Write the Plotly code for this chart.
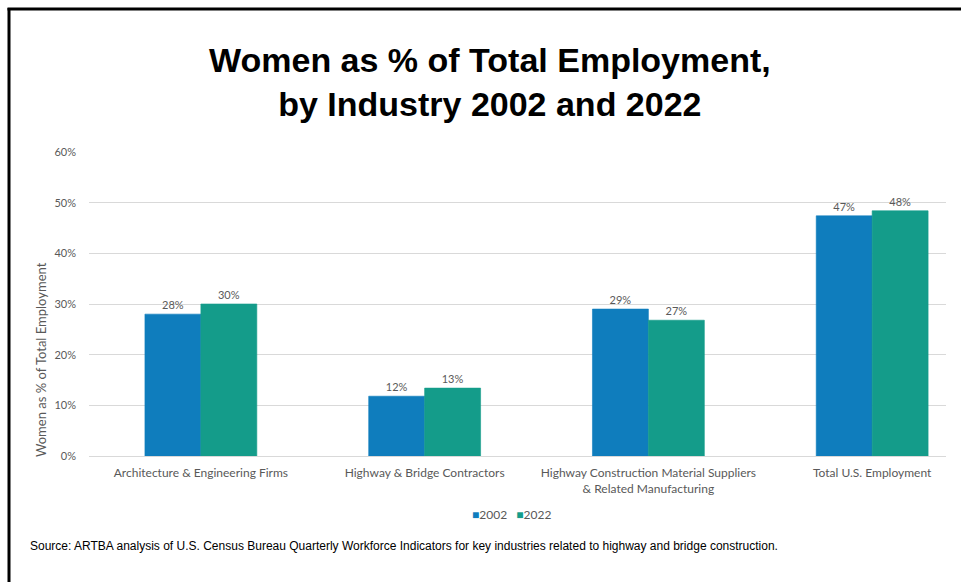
import plotly.graph_objects as go

categories = [
    "Architecture & Engineering Firms",
    "Highway & Bridge Contractors",
    "Highway Construction Material Suppliers<br>& Related Manufacturing",
    "Total U.S. Employment",
]
series_names = ["2002", "2022"]
values_2002 = [28.0, 11.8, 29.0, 47.4]
values_2022 = [30.0, 13.4, 26.8, 48.4]
y_ticks = [0, 10, 20, 30, 40, 50, 60]

W, H = 961, 582
L, R, T, B = 89, 15, 152, 126
PW, PH = W - L - R, H - T - B

def px_x(x):
    return (x - L) / PW

def px_y(y):
    return (H - B - y) / PH

blue = "#0F7DBD"
teal = "#149C8A"
grey = "#595959"
lab_font = "Lato, Open Sans, sans-serif"
colors = [blue, teal]

fig = go.Figure()
for name, vals, col in [(series_names[0], values_2002, blue), (series_names[1], values_2022, teal)]:
    fig.add_trace(go.Bar(
        x=categories, y=vals, name=name, marker=dict(color=col, line=dict(width=0.6, color=col)),
        texttemplate="%{y:.0f}%", textposition="outside",
        textfont=dict(family=lab_font, size=11, color=grey), cliponaxis=False,
        showlegend=False,
    ))

fig.update_layout(
    width=W, height=H, margin=dict(l=L, r=R, t=T, b=B),
    paper_bgcolor="white", plot_bgcolor="white",
    barmode="group", bargap=0.5, bargroupgap=0,
    xaxis=dict(range=[-0.5, 3.33], showgrid=False, showline=False, ticks="",
               ticklabelstandoff=8,
               tickfont=dict(family=lab_font, size=12, color=grey)),
    yaxis=dict(range=[0, 60], tickvals=y_ticks, ticktext=[f"{v}%" for v in y_ticks],
               showgrid=True, gridcolor="#D9D9D9", gridwidth=1, zeroline=True,
               zerolinecolor="#D9D9D9", zerolinewidth=1, showline=False, ticks="",
               ticklabelstandoff=12,
               tickfont=dict(family=lab_font, size=11, color=grey)),
)

# legend (compact, Excel-style)
legend_text = "&nbsp;&nbsp;&nbsp;".join(
    f'<span style="color:{c}">■</span>{n}' for n, c in zip(series_names, colors)
)
fig.add_annotation(
    text=legend_text, xref="paper", yref="paper", x=px_x(511), y=px_y(514),
    xanchor="center", yanchor="middle", showarrow=False,
    font=dict(family=lab_font, size=12, color=grey),
)

fig.add_annotation(
    text="<b>Women as % of Total Employment,<br>by Industry 2002 and 2022</b>",
    xref="paper", yref="paper", x=px_x(490), y=px_y(82), xanchor="center", yanchor="middle",
    showarrow=False, font=dict(family="Liberation Sans, Arial, sans-serif", size=34, color="black"),
)
fig.add_annotation(
    text="Women as % of Total Employment", textangle=-90,
    xref="paper", yref="paper", x=px_x(41), y=px_y(360), xanchor="center", yanchor="middle",
    showarrow=False, font=dict(family=lab_font, size=13, color=grey),
)
fig.add_annotation(
    text="Source: ARTBA analysis of U.S. Census Bureau Quarterly Workforce Indicators for key industries related to highway and bridge construction.",
    xref="paper", yref="paper", x=px_x(28), y=px_y(546), xanchor="left", yanchor="middle",
    showarrow=False, font=dict(family="Liberation Sans, Arial, sans-serif", size=12, color="black"),
)

# black frame (left and top)
fig.add_shape(type="line", xref="paper", yref="paper", x0=px_x(9), x1=px_x(9), y0=px_y(8), y1=px_y(600),
              line=dict(color="black", width=3))
fig.add_shape(type="line", xref="paper", yref="paper", x0=px_x(7.5), x1=px_x(970), y0=px_y(9), y1=px_y(9),
              line=dict(color="black", width=3))

fig.write_html("out.html")
